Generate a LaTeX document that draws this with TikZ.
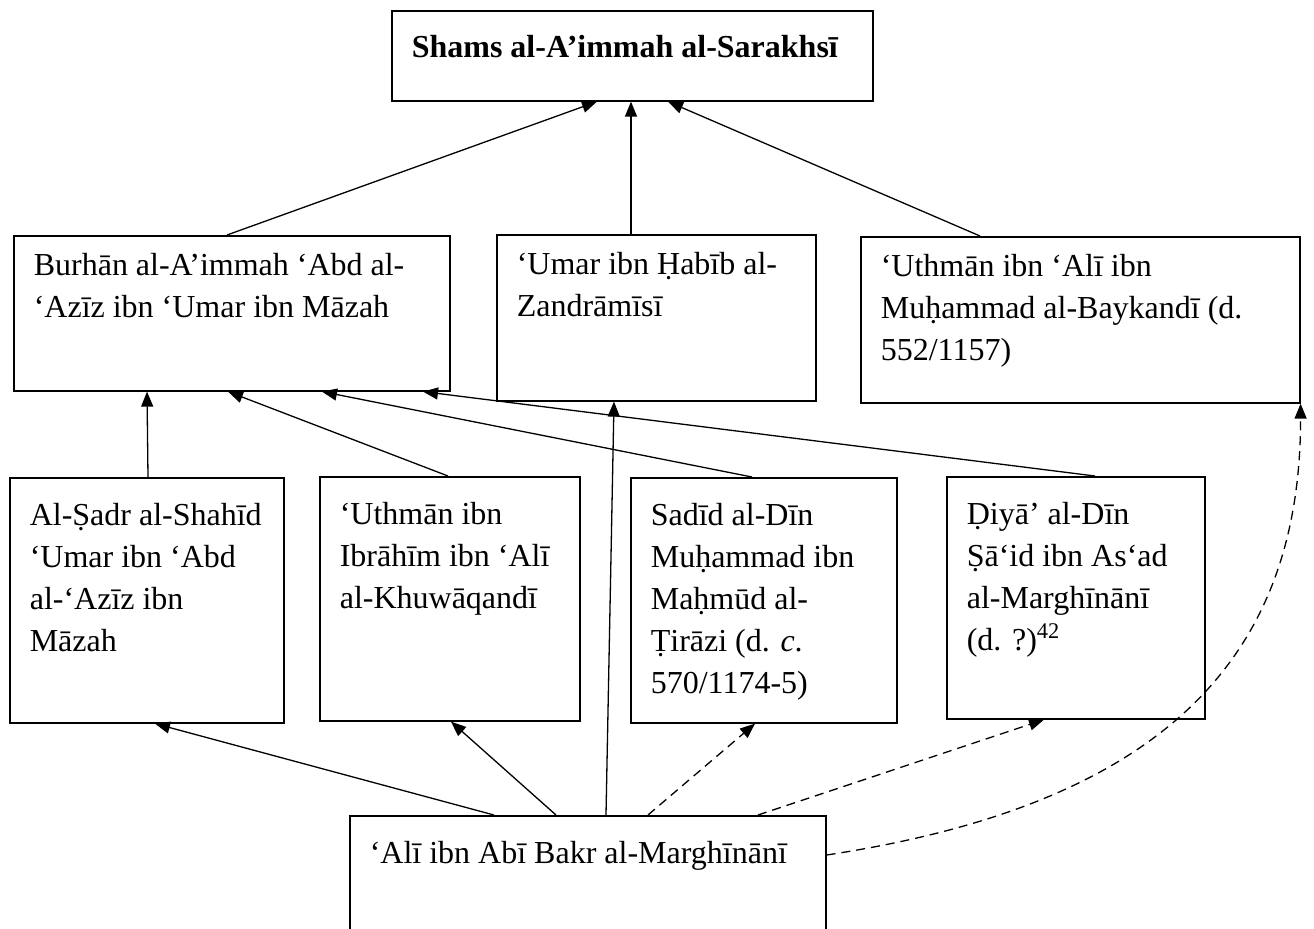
\documentclass[tikz,border=0pt]{standalone}
\usepackage{fontspec}
\setmainfont{Liberation Serif}
\usetikzlibrary{arrows.meta,calc}
\newlength\pxu \setlength\pxu{0.5pt}
% #1 first-baseline depth, #2 height px, #3 width px, #4 text
\newcommand\bxtext[4][20pt]{\parbox[c][#2\pxu][t]{#3\pxu}{\raggedright\leftskip=10pt\rule{0pt}{#1}#4}}
\begin{document}
\begin{tikzpicture}[x=0.5pt,y=-0.5pt,
  box/.style={draw, line width=0.8pt, inner sep=0pt, anchor=north west,
    font=\fontsize{16}{21}\selectfont},
  link/.style={line width=0.65pt, -{Triangle[length=7.5pt,width=6pt]}},
  dlink/.style={link, dash pattern=on 4.5pt off 3pt}]
\useasboundingbox (0,0) rectangle (1314,928);
\clip (0,0) rectangle (1314,928);

\node[box] (shams) at (391,10) {\bxtext[23.5pt]{90}{481}{\bfseries Shams al-A’immah al-Sarakhsī}};

\node[box] (burhan) at (13,235) {\bxtext{155}{436}{Burhān al-A’immah ‘Abd al-\\‘Azīz ibn ‘Umar ibn Māzah}};
\node[box] (umar) at (496,234) {\bxtext{166}{319}{‘Umar ibn Ḥabīb al-\\Zandrāmīsī}};
\node[box] (uthman) at (860,236) {\bxtext{166}{439}{‘Uthmān ibn ‘Alī ibn\\Muḥammad al-Baykandī (d.\\552/1157)}};

\node[box] (sadr) at (9,477) {\bxtext[24pt]{245}{274}{Al-Ṣadr al-Shahīd\\‘Umar ibn ‘Abd\\al-‘Azīz ibn\\Māzah}};
\node[box] (ibrahim) at (319,476) {\bxtext[24pt]{244}{260}{‘Uthmān ibn\\Ibrāhīm ibn ‘Alī\\al-Khuwāqandī}};
\node[box] (sadid) at (630,477) {\bxtext[24pt]{245}{266}{Sadīd al-Dīn\\Muḥammad ibn\\Maḥmūd al-\\Ṭirāzi (d. \textit{c}.\\570/1174-5)}};
\node[box] (diya) at (946,476) {\bxtext[24pt]{242}{258}{Ḍiyā’ al-Dīn\\Ṣā‘id ibn As‘ad\\al-Marghīnānī\\(d. ?)\textsuperscript{42}}};

\node[box] (ali) at (349,815) {\bxtext[24pt]{150}{476}{‘Alī ibn Abī Bakr al-Marghīnānī}};

% to Shams
\draw[link] ($(burhan.north west)+(214,0)$) -- ($(shams.south west)+(206,0)$);
\draw[link] ($(umar.north west)+(135,0)$) -- ($(shams.south west)+(240,0)$);
\draw[link] ($(uthman.north west)+(120,0)$) -- ($(shams.south west)+(277,0)$);
% to Burhan
\draw[link] ($(sadr.north west)+(139,0)$) -- ($(burhan.south west)+(134,0)$);
\draw[link] ($(ibrahim.north west)+(129,0)$) -- ($(burhan.south west)+(215,0)$);
\draw[link] ($(sadid.north west)+(122,0)$) -- ($(burhan.south west)+(309,0)$);
\draw[link] ($(diya.north west)+(149,0)$) -- ($(burhan.south west)+(410,0)$);
% from Ali
\draw[link] ($(ali.north west)+(145,0)$) -- ($(sadr.south west)+(146,0)$);
\draw[link] ($(ali.north west)+(207,0)$) -- ($(ibrahim.south west)+(132,0)$);
\draw[link] ($(ali.north west)+(257,0)$) -- ($(umar.south west)+(118,0)$);
\draw[dlink] ($(ali.north west)+(299,0)$) -- ($(sadid.south west)+(125,0)$);
\draw[dlink] ($(ali.north west)+(409,0)$) -- ($(diya.south west)+(98,0)$);
\draw[dlink] ($(ali.north east)+(0,40)$) .. controls +(330,-50) and +(0,260) .. (uthman.south east);
\end{tikzpicture}
\end{document}
